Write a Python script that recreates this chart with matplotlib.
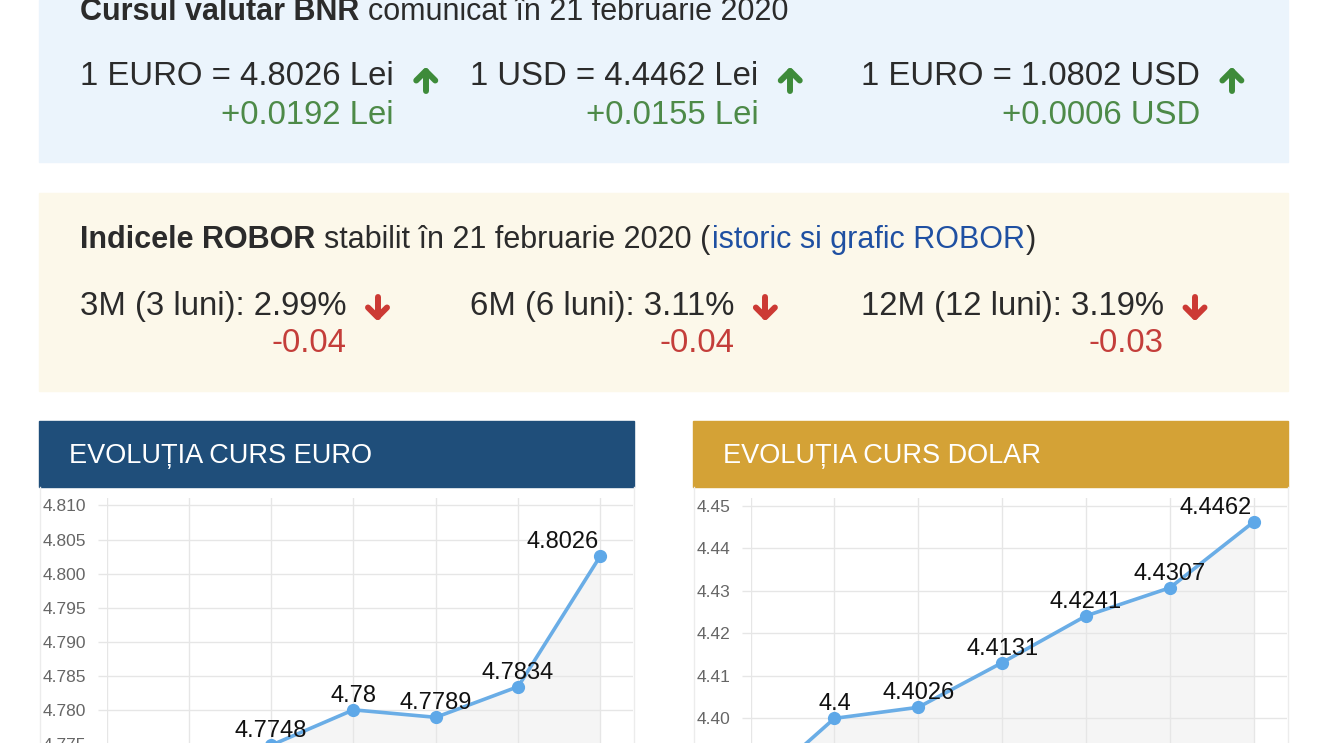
import matplotlib
matplotlib.use('Agg')
import matplotlib.pyplot as plt
from matplotlib.patches import Rectangle
from matplotlib.ticker import MultipleLocator, FormatStrFormatter

plt.rcParams['font.family'] = ['Liberation Sans', 'DejaVu Sans']

W, H = 1320, 743

# BNR rates of the day
bnr_date = '21 februarie 2020'
rate_labels = ['1 EURO = 4.8026 Lei', '1 USD = 4.4462 Lei', '1 EURO = 1.0802 USD']
rate_changes = ['+0.0192 Lei', '+0.0155 Lei', '+0.0006 USD']

# ROBOR
robor_labels = ['3M (3 luni): 2.99%', '6M (6 luni): 3.11%', '12M (12 luni): 3.19%']
robor_changes = ['-0.04', '-0.04', '-0.03']

# last 7 days (the first points fall below the cropped screenshot)
euro_values = [4.7656, 4.7701, 4.7748, 4.78, 4.7789, 4.7834, 4.8026]
dolar_values = [4.3825, 4.4, 4.4026, 4.4131, 4.4241, 4.4307, 4.4462]

dark = '#2b2b2b'
green = '#4d8a48'
red = '#c43e3a'
link = '#1f50a2'
line_c = '#6aade6'
grid_c = '#e6e6e6'

fig = plt.figure(figsize=(W / 100, H / 100), dpi=100)
bg = fig.add_axes([0, 0, 1, 1])
bg.set_xlim(0, W)
bg.set_ylim(H, 0)
bg.axis('off')
r = fig.canvas.get_renderer()


def put_run(x, y, parts, size):
    # draws text pieces one after another on the same baseline
    for s, weight, color, gap in parts:
        t = bg.text(x, y, s, fontsize=size, fontweight=weight, color=color,
                    ha='left', va='baseline')
        x = t.get_window_extent(r).x1 + gap
    return x


def arrow(cx, cy, up, color):
    d = -1 if up else 1
    tip = cy + d * 10
    bot = cy - d * 10
    arm = cy + d * 0.5
    kw = dict(color=color, lw=4.3, solid_capstyle='round', solid_joinstyle='round')
    bg.plot([cx, cx], [bot, tip], **kw)
    bg.plot([cx - 9.5, cx, cx + 9.5], [arm, tip, arm], **kw)


# --- BNR box
bg.add_patch(Rectangle((39, 0), 1249, 162, color='#ebf4fc', zorder=0))
put_run(80, 20, [('Cursul valutar BNR', 'bold', dark, 9),
                 ('comunicat în ' + bnr_date, 'normal', dark, 0)], 22)
for i, x0 in enumerate([80, 470, 861]):
    end = put_run(x0, 85, [(rate_labels[i], 'normal', dark, 0)], 23.7)
    bg.text(end, 124, rate_changes[i], fontsize=23.7, color=green,
            ha='right', va='baseline')
    arrow(end + 32, 81, True, '#3e8b3a')

# --- ROBOR box
bg.add_patch(Rectangle((39, 193), 1249, 198, color='#fcf8ea', zorder=0))
put_run(80, 248, [('Indicele ROBOR', 'bold', dark, 9),
                  ('stabilit în ' + bnr_date + ' (', 'normal', dark, 1),
                  ('istoric si grafic ROBOR', 'normal', link, 1),
                  (')', 'normal', dark, 0)], 22)
for i, x0 in enumerate([80, 470, 861]):
    end = put_run(x0, 315, [(robor_labels[i], 'normal', dark, 0)], 23.7)
    bg.text(end, 352, robor_changes[i], fontsize=23.7, color=red,
            ha='right', va='baseline')
    arrow(end + 31, 307, False, '#cc3a34')


# --- charts
def px_axes(left, top, right, bottom):
    return fig.add_axes([left / W, 1 - bottom / H, (right - left) / W, (bottom - top) / H])


def chart(panel_x, plot_left, header_c, title, values, step, fmt, ylim):
    bg.add_patch(Rectangle((panel_x, 421), 595, 66, color=header_c, zorder=1))
    bg.text(panel_x + 30, 463, title, fontsize=19.5, color='white', ha='left', va='baseline')
    for bx in (panel_x + 0.5, panel_x + 594.5):
        bg.plot([bx, bx], [487, H], color='#ececec', lw=1)

    ax = px_axes(plot_left, 498, panel_x + 593.5, ylim[2])
    ax.set_facecolor('none')
    x = list(range(len(values)))
    ax.set_xlim(0, 6.39)
    ax.set_ylim(ylim[0], ylim[1])
    ax.fill_between(x, values, ylim[0], color='#f5f5f5', lw=0, zorder=0.3)
    ax.plot(x, values, color=line_c, lw=2.6, marker='o', ms=8.5,
            mfc='#5ea8e8', mec='#5ea8e8', zorder=3)
    for i, v in enumerate(values):
        last = i == len(values) - 1
        ax.annotate(f'{v:g}', (i, v), xytext=(-2 if last else 0, 8),
                    textcoords='offset pixels', ha='right' if last else 'center',
                    va='baseline', fontsize=17, color='#111111', zorder=4)
    ax.yaxis.set_major_locator(MultipleLocator(step))
    ax.yaxis.set_major_formatter(FormatStrFormatter(fmt))
    ax.set_xticks(x)
    ax.set_xticklabels([])
    ax.grid(True, color=grid_c, lw=1)
    ax.set_axisbelow(True)
    for s in ax.spines.values():
        s.set_visible(False)
    ax.tick_params(axis='y', length=6.5, width=1, color=grid_c, pad=8,
                   labelsize=12.5, labelcolor='#666666')
    ax.tick_params(axis='x', length=0)
    return ax


chart(39, 106.5, '#1f4e7a', 'EVOLUȚIA CURS EURO', euro_values, 0.005, '%.3f',
      (4.765, 4.8111, 812))
chart(693, 750.5, '#d4a236', 'EVOLUȚIA CURS DOLAR', dolar_values, 0.01, '%.2f',
      (4.37, 4.4518, 846))

fig.savefig('out.png', dpi=100, facecolor='white')
